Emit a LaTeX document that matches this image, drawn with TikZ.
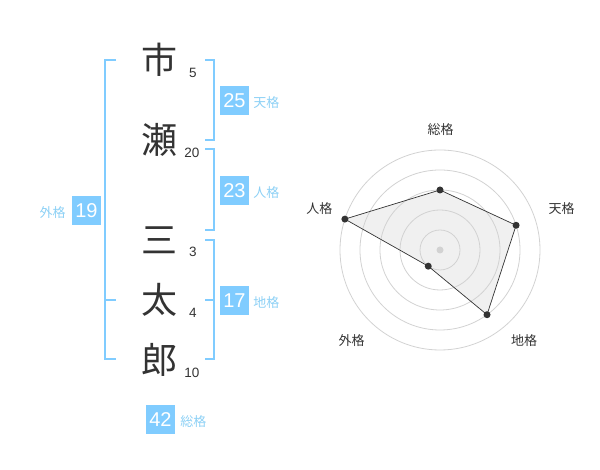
\documentclass[tikz,border=0pt]{standalone}
\usepackage{fontspec}
\setmainfont{Liberation Sans}
\newfontfamily\jpfont{Noto Sans CJK JP}
\usetikzlibrary{positioning}
\usepackage{xcolor}
\definecolor{kakublue}{RGB}{128,204,255}
\definecolor{nameblue}{RGB}{140,208,245}
\definecolor{ink}{RGB}{51,51,51}
\definecolor{ringgray}{RGB}{210,210,210}
\definecolor{areagray}{RGB}{240,240,240}

\begin{document}
\begin{tikzpicture}[x=1pt, y=1pt,
	kanji/.style={font=\jpfont\fontsize{36}{36}\selectfont, text=ink, inner sep=0pt},
	kakusu/.style={font=\fontsize{13.5}{14}\selectfont, text=ink, inner sep=0pt},
	kakubox/.style={fill=kakublue, text=white, minimum size=29pt, inner sep=0pt, font=\fontsize{20}{20}\selectfont},
	kakuname/.style={font=\jpfont\fontsize{13}{13}\selectfont, text=nameblue, inner sep=0pt},
	bracket/.style={kakublue, line width=2pt},
	ring/.style={ringgray, line width=0.8pt},
	axisname/.style={font=\jpfont\fontsize{13}{13}\selectfont, text=ink, inner sep=0pt},
	dot/.style={fill=ink, circle, inner sep=0pt, minimum size=7pt}]
			\useasboundingbox (0,0) rectangle (600,470);
			
			% name and strokes
			\node[kanji] (k1) at (159,410) {市};
			\node[kanji] (k2) at (159,330) {瀬};
			\node[kanji] (k3) at (159,230) {三};
			\node[kanji] (k4) at (159,170) {太};
			\node[kanji] (k5) at (159,110) {郎};
			\node[kakusu] (n1) at (193,397) {5};
			\node[kakusu] (n2) at (192,317) {20};
			\node[kakusu] (n3) at (193,218) {3};
			\node[kakusu] (n4) at (193,157) {4};
			\node[kakusu] (n5) at (192,97) {10};
			
			% brackets
			\draw[bracket] (116,410) -- (105,410) -- (105,111) -- (116,111);
			\draw[bracket] (105,170) -- (116,170);
			\draw[bracket] (205,410) -- (214,410) -- (214,330) -- (205,330);
			\draw[bracket] (205,321) -- (214,321) -- (214,240) -- (205,240);
			\draw[bracket] (205,230) -- (214,230) -- (214,111) -- (205,111);
			\draw[bracket] (205,170) -- (214,170);
			
			% kaku boxes
			\node[kakubox] (ten) at (234.5,369.5) {25};
			\node[kakuname, base right=4pt of ten] {天格};
			\node[kakubox] (jin) at (234.5,279.5) {23};
			\node[kakuname, base right=4pt of jin] {人格};
			\node[kakubox] (chi) at (234.5,169.5) {17};
			\node[kakuname, base right=4pt of chi] {地格};
			\node[kakubox] (gai) at (86.5,259.5) {19};
			\node[kakuname, base left=6pt of gai] {外格};
			\node[kakubox] (sou) at (160.5,50) {42};
			\node[kakuname, base right=5pt of sou] {総格};
			
			% radar
			\begin{scope}[shift={(440,220)}]
				\coordinate (R1) at (90:60);
				\coordinate (R2) at (18:80);
				\coordinate (R3) at (-54:80);
				\coordinate (R4) at (234:20);
				\coordinate (R5) at (162:100);
				\fill[areagray] (R1) -- (R2) -- (R3) -- (R4) -- (R5) -- cycle;
				\foreach \r in {20,40,...,100}
					\draw[ring] (0,0) circle (\r);
				\draw[ink, line width=0.7pt] (R1) -- (R2) -- (R3) -- (R4) -- (R5) -- cycle;
				\foreach \p in {R1,R2,R3,R4,R5}
					\node[dot] at (\p) {};
				\node[fill=ringgray, circle, inner sep=0pt, minimum size=7pt] (C) at (0,0) {};
				\node[axisname] (A1) at (0.7,120) {総格};
				\node[axisname] (A2) at (121.7,41) {天格};
				\node[axisname] (A3) at (84,-90.7) {地格};
				\node[axisname] (A4) at (-88.3,-90.7) {外格};
				\node[axisname] (A5) at (-120.7,41) {人格};
			\end{scope}
		\end{tikzpicture}
\end{document}
